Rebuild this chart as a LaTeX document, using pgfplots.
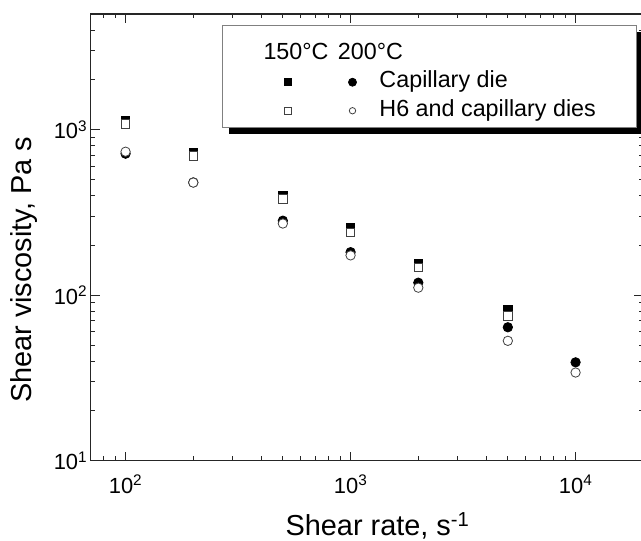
\documentclass[border=0pt]{standalone}
\usepackage{fontspec}
\setmainfont{Liberation Sans}
\usepackage{pgfplots}
\pgfplotsset{compat=1.18}
\usetikzlibrary{shadows}
\pgfplotsset{
  markimg/.style={legend image code/.code={\draw[##1] plot coordinates {(0bp,0bp)};}},
  hdrA/.style={legend image code/.code={\node[anchor=base west,draw=none,fill=none,text height=28bp,text depth=6bp] at (-25bp,-5.5bp) {\makebox[25bp][l]{150°C}};}},
  hdrB/.style={legend image code/.code={\node[anchor=base west,draw=none,fill=none,text height=28bp,text depth=6bp] at (-15bp,-5.5bp) {\makebox[15bp][l]{200°C}};}},
}
\begin{document}
\begin{tikzpicture}
\begin{loglogaxis}[
  at={(90.7bp,80.3bp)}, anchor=south west,
  scale only axis, width=552.6bp, height=446.7bp,
  xmin=70, xmax=20000, ymin=10, ymax=5000,
  log basis x=10, log basis y=10,
  axis line style={line width=1.3bp, black!85},
  every tick/.style={line width=1bp, black!85},
  major tick length=9bp, minor tick length=4.5bp,
  xticklabel={10\textsuperscript{\pgfmathparse{int(round(\tick))}\pgfmathresult}},
  yticklabel={10\textsuperscript{\pgfmathparse{int(round(\tick))}\pgfmathresult}},
  tick label style={font=\fontsize{22}{22}\selectfont},
  xticklabel style={yshift=-11bp},
  xlabel={Shear rate, s\textsuperscript{-1}},
  ylabel={Shear viscosity, Pa s},
  xlabel style={at={(axis description cs:0.519,-0.146)}, anchor=center, font=\fontsize{29}{29}\selectfont},
  ylabel style={at={(axis description cs:-0.1207,0.427)}, anchor=center, font=\fontsize{29}{29}\selectfont},
  legend columns=2, legend cell align=left,
  legend style={at={(axis description cs:0.2376,0.9754)}, anchor=north west,
    draw=gray, line width=1bp, fill=white,
    drop shadow={shadow xshift=6.5bp, shadow yshift=-6.5bp, fill=black, opacity=1},
    inner xsep=41bp, inner ysep=5.75bp, row sep=5.5bp,
    nodes={inner sep=0pt, text height=17bp, text depth=6bp, font=\fontsize{23.4}{23.4}\selectfont},
    /tikz/every odd column/.append style={column sep=23bp},
    /tikz/every even column/.append style={column sep=22.5bp}},
]
% 150 C, capillary die (filled squares)
\addplot[forget plot, only marks, mark=square*, mark size=4.3bp, mark options={draw=black, fill=black, line width=0.8bp}] coordinates {
(100,1133) (200,726) (500,399) (1000,256) (2000,155) (5000,82)};
% 200 C, capillary die (filled circles)
\addplot[forget plot, only marks, mark=*, mark size=4.7bp, mark options={draw=black, fill=black, line width=0.8bp}] coordinates {
(100,716) (200,480) (500,282) (1000,182) (2000,119) (5000,64) (10000,39.3)};
% 150 C, H6 and capillary dies (open squares)
\addplot[forget plot, only marks, mark=square*, mark size=4.3bp, mark options={draw=black!75, fill=white, line width=0.8bp}] coordinates {
(100,1087) (200,697) (500,383) (1000,239) (2000,147) (5000,75)};
% 200 C, H6 and capillary dies (open circles)
\addplot[forget plot, only marks, mark=*, mark size=4.7bp, mark options={draw=black!75, fill=white, line width=0.8bp}] coordinates {
(100,736) (200,479) (500,271) (1000,174) (2000,111) (5000,53) (10000,34.1)};

\addlegendimage{hdrA}
\addlegendentry{}
\addlegendimage{hdrB}
\addlegendentry{}
\addlegendimage{only marks, mark=square*, mark size=3.5bp, mark options={draw=black, fill=black, line width=0.8bp}, markimg}
\addlegendentry{}
\addlegendimage{only marks, mark=*, mark size=4bp, mark options={draw=black, fill=black, line width=0.8bp}, markimg}
\addlegendentry{Capillary die}
\addlegendimage{only marks, mark=square*, mark size=3.5bp, mark options={draw=black!75, fill=white, line width=0.8bp}, markimg}
\addlegendentry{}
\addlegendimage{only marks, mark=*, mark size=3.2bp, mark options={draw=black!75, fill=white, line width=0.8bp}, markimg}
\addlegendentry{H6 and capillary dies}
\end{loglogaxis}
\pgfresetboundingbox
\path[use as bounding box] (0bp,0bp) rectangle (641bp,541bp);
\end{tikzpicture}
\end{document}
